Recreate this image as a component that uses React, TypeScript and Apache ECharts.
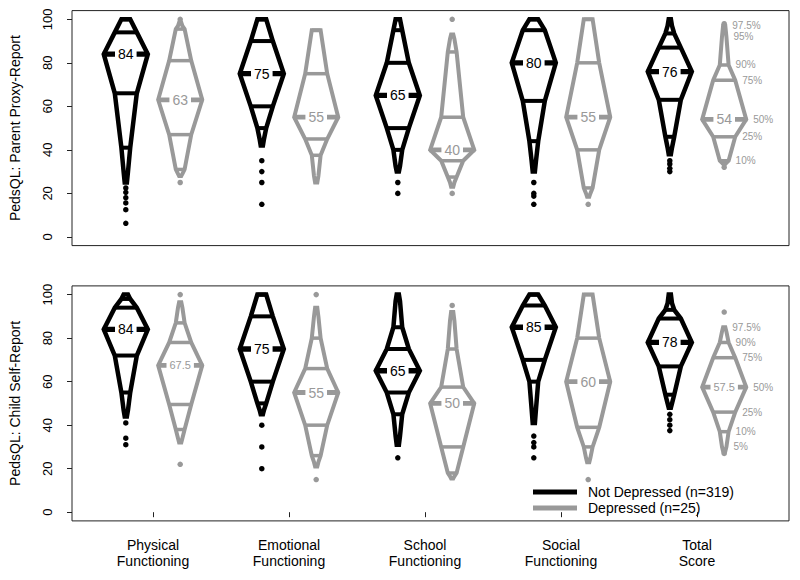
import React, { useEffect, useRef } from 'react';
import * as echarts from 'echarts';

const FONT = '"Liberation Sans", Arial, Helvetica, sans-serif';
const BLACK = '#000000';
const GRAY = '#999999';

const categories = ['Physical\nFunctioning', 'Emotional\nFunctioning', 'School\nFunctioning', 'Social\nFunctioning', 'Total\nScore'];
const panelTitles = ['PedsQL: Parent Proxy-Report', 'PedsQL: Child Self-Report'];
const legendNames = ['Not Depressed (n=319)', 'Depressed (n=25)'];
const yTicks = [0, 20, 40, 60, 80, 100];
const xTicks = [1, 2, 3, 4, 5];
const quantileLevels = [2.5, 5, 10, 25, 50, 75, 90, 95, 97.5];
const quantileLabels = ['2.5%', '5%', '10%', '25%', '50%', '75%', '90%', '95%', '97.5%'];

// Parent proxy-report: quantiles (2.5,5,10,25,50,75,90,95,97.5) per category
const parentNotDepressed = [
  [25, 30, 41, 66, 84, 94, 100, 100, 100],
  [42, 45, 50, 60, 75, 90, 100, 100, 100],
  [30, 32.5, 40, 50, 65, 80, 95, 100, 100],
  [30, 35, 44, 62.5, 80, 95, 100, 100, 100],
  [38, 41, 46, 63, 76, 87, 93.5, 97, 100],
];
const parentDepressed = [
  [28, 29, 31, 47, 63, 81, 95.5, 97, 98.5],
  [25, 28, 37.5, 45, 55, 75, 95, 95, 95],
  [23, 25, 27.5, 35, 40, 55, 85, 91, 93],
  [18.5, 20, 22.5, 40, 55, 80, 100, 100, 100],
  [33.5, 34, 35, 46, 54, 72, 79, 92, 97],
];
const parentNotDepressedOutliers = [
  [22.5, 20.5, 18, 15.6, 12.5, 6.25],
  [35, 30, 25, 15],
  [25, 20],
  [25, 20, 18.75, 15],
  [35, 33.5, 31.5, 30],
];
const parentDepressedOutliers = [
  [100, 25],
  [],
  [100, 20],
  [15],
  [98, 32],
];

// Child self-report
const childNotDepressed = [
  [44, 47, 55, 72, 84, 94, 98, 100, 100],
  [45, 47, 50, 60, 75, 90, 100, 100, 100],
  [31, 35, 45, 55, 65, 75, 85, 97, 100],
  [41, 47.5, 60, 70, 85, 95, 100, 100, 100],
  [48, 50, 54, 67, 78, 89, 93, 96, 100],
];
const childDepressed = [
  [32, 34, 38, 49.5, 67.5, 78, 87, 94, 96.5],
  [21, 23, 26, 40, 55, 66, 80, 90, 94],
  [15.5, 16.5, 18, 30, 50, 57.5, 75, 88, 92],
  [23, 25, 30, 39, 60, 80, 100, 100, 100],
  [28, 30, 37, 46, 57.5, 71, 78, 83, 85],
];
const childNotDepressedOutliers = [
  [41, 34, 31],
  [40, 30, 20],
  [25],
  [35, 32, 30, 25],
  [45, 42.5, 40, 37.5],
];
const childDepressedOutliers = [
  [100, 22],
  [100, 15],
  [95],
  [15],
  [92, 27],
];

const parentPercentLabels = ['97.5%', '95%', '90%', '75%', '50%', '25%', '10%'];
const childPercentLabels = ['97.5%', '90%', '75%', '50%', '25%', '10%', '5%'];

const XMIN = 1 - 81 / 136;
const XMAX = XMIN + 717 / 136;
const GROUP_OFFSET = 0.2;
const HALF_WIDTH = 0.162; // x units at the median
const LINE_LEVELS = [2, 3, 5, 6];

function makeRenderItem(color: string, offset: number, lw: number, pctLabels: string[] | null) {
  return (params: any, api: any) => {
    const cat = api.value(0);
    const cx = cat + offset;
    const unit = api.size([1, 0])[0];
    const W = HALF_WIDTH * unit;
    const pts = quantileLevels.map((lvl, i) => {
      const q = api.value(i + 1);
      const p = api.coord([cx, q]);
      const frac = Math.min(lvl, 100 - lvl) / 50;
      return { x: p[0], y: p[1], hw: W * frac, q };
    });
    const right = pts.map((p) => [p.x + p.hw, p.y]);
    const left = pts.slice().reverse().map((p) => [p.x - p.hw, p.y]);
    const children: any[] = [];
    children.push({
      type: 'polygon',
      shape: { points: right.concat(left) },
      style: { fill: 'none', stroke: color, lineWidth: lw, lineJoin: 'miter', miterLimit: 4 },
    });
    LINE_LEVELS.forEach((i) => {
      const p = pts[i];
      children.push({
        type: 'line',
        shape: { x1: p.x - p.hw, y1: p.y, x2: p.x + p.hw, y2: p.y },
        style: { stroke: color, lineWidth: lw - 0.5 },
      });
    });
    const m = pts[4];
    children.push({
      type: 'line',
      shape: { x1: m.x - m.hw - 1, y1: m.y, x2: m.x + m.hw + 1, y2: m.y },
      style: { stroke: color, lineWidth: lw + 0.8 },
    });
    const mtxt = String(m.q);
    const fs = mtxt.length > 2 ? 11 : 14;
    children.push({
      type: 'text',
      x: m.x,
      y: m.y,
      style: {
        text: mtxt,
        fill: color,
        font: `${fs}px ${FONT}`,
        align: 'center',
        verticalAlign: 'middle',
        backgroundColor: '#ffffff',
        padding: [1, 3],
      },
      z2: 10,
    });
    if (pctLabels && cat === 5) {
      pctLabels.forEach((lab) => {
        const idx = quantileLabels.indexOf(lab);
        const p = pts[idx];
        children.push({
          type: 'text',
          x: p.x + p.hw + 7,
          y: p.y,
          style: {
            text: lab,
            fill: color,
            font: `10px ${FONT}`,
            align: 'left',
            verticalAlign: 'middle',
          },
        });
      });
    }
    return { type: 'group', children };
  };
}

function shapeData(rows: number[][]) {
  return rows.map((q, i) => [i + 1, ...q]);
}

function outlierData(rows: number[][], offset: number) {
  const out: number[][] = [];
  rows.forEach((vals, i) => vals.forEach((v) => out.push([i + 1 + offset, v])));
  return out;
}

const panels = [
  { notDep: parentNotDepressed, dep: parentDepressed, notDepOut: parentNotDepressedOutliers, depOut: parentDepressedOutliers, pct: parentPercentLabels },
  { notDep: childNotDepressed, dep: childDepressed, notDepOut: childNotDepressedOutliers, depOut: childDepressedOutliers, pct: childPercentLabels },
];

export default function App() {
  const ref = useRef<HTMLDivElement>(null);
  useEffect(() => {
    if (!ref.current) return;
    const chart = echarts.init(ref.current, null, { renderer: 'svg' });
    const series: any[] = [];
    panels.forEach((pn, g) => {
      series.push({
        type: 'custom', name: legendNames[0], xAxisIndex: g, yAxisIndex: g, silent: true,
        itemStyle: { color: BLACK }, data: shapeData(pn.notDep),
        renderItem: makeRenderItem(BLACK, -GROUP_OFFSET, 4.5, null),
      });
      series.push({
        type: 'custom', name: legendNames[1], xAxisIndex: g, yAxisIndex: g, silent: true,
        itemStyle: { color: GRAY }, data: shapeData(pn.dep),
        renderItem: makeRenderItem(GRAY, GROUP_OFFSET, 4, pn.pct),
      });
      series.push({
        type: 'scatter', name: legendNames[0], xAxisIndex: g, yAxisIndex: g, silent: true,
        symbolSize: 5.5, itemStyle: { color: BLACK, opacity: 1 }, data: outlierData(pn.notDepOut, -GROUP_OFFSET),
      });
      series.push({
        type: 'scatter', name: legendNames[1], xAxisIndex: g, yAxisIndex: g, silent: true,
        symbolSize: 5.5, itemStyle: { color: GRAY, opacity: 1 }, data: outlierData(pn.depOut, GROUP_OFFSET),
      });
    });
    const option: any = {
      animation: false,
      textStyle: { fontFamily: FONT },
      grid: [
        { left: 72, top: 10.6, width: 717, height: 235, show: true, borderColor: '#222', borderWidth: 1, backgroundColor: 'transparent' },
        { left: 72, top: 285.9, width: 717, height: 235, show: true, borderColor: '#222', borderWidth: 1, backgroundColor: 'transparent' },
      ],
      xAxis: [
        { type: 'value', gridIndex: 0, min: XMIN, max: XMAX, show: false },
        {
          type: 'value', gridIndex: 1, min: XMIN, max: XMAX,
          axisLine: { show: false }, splitLine: { show: false },
          axisTick: { show: true, customValues: xTicks, length: 5, lineStyle: { color: '#222' } },
          axisLabel: {
            customValues: xTicks,
            formatter: (v: number) => categories[Math.round(v) - 1] ?? '',
            fontSize: 14, lineHeight: 16, color: '#000', margin: 16, fontFamily: FONT,
          },
        },
      ],
      yAxis: [0, 1].map((g) => ({
        type: 'value', gridIndex: g, min: -4, max: 104,
        name: panelTitles[g], nameLocation: 'middle', nameGap: 50,
        nameTextStyle: { fontSize: 14, color: '#000', fontFamily: FONT },
        axisLine: { show: false }, splitLine: { show: false },
        axisTick: { show: true, customValues: yTicks, length: 5, lineStyle: { color: '#222' } },
        axisLabel: { customValues: yTicks, rotate: 90, fontSize: 13, color: '#000', margin: 18, fontFamily: FONT },
      })),
      legend: {
        orient: 'vertical', left: 533, top: 484, itemWidth: 44, itemHeight: 5, itemGap: 0,
        padding: 0,
        selectedMode: false,
        textStyle: { fontSize: 14, lineHeight: 16, color: '#000', fontFamily: FONT, padding: [0, 0, 0, 6] },
        data: [
          { name: legendNames[0], icon: 'rect', itemStyle: { color: BLACK } },
          { name: legendNames[1], icon: 'rect', itemStyle: { color: GRAY } },
        ],
      },
      series,
    };
    chart.setOption(option);
    return () => chart.dispose();
  }, []);
  return <div ref={ref} style={{ position: 'fixed', left: 0, top: 0, width: 800, height: 580, background: '#fff' }} />;
}
